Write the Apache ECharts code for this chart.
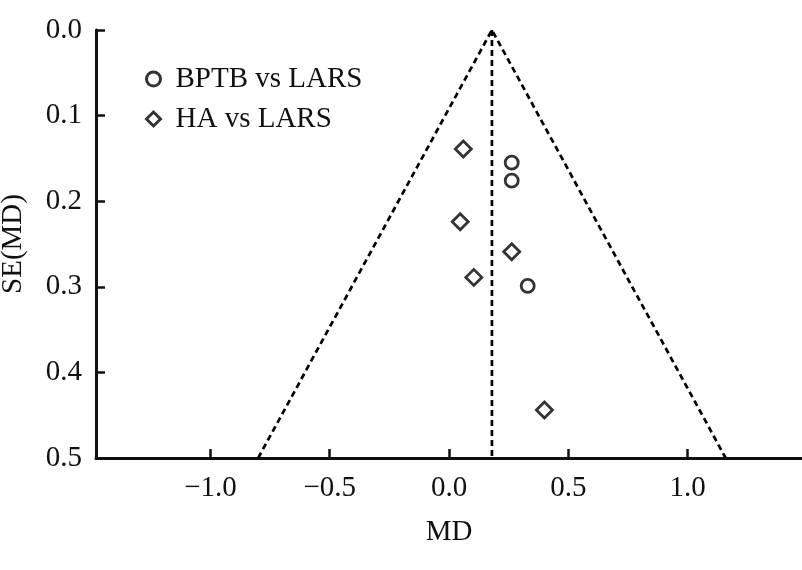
<!DOCTYPE html>
<html>
<head>
<meta charset="utf-8">
<script src="https://cdn.jsdelivr.net/npm/echarts@6/dist/echarts.min.js"></script>
<style>
  html, body { margin: 0; padding: 0; background: #fff; }
  #chart { width: 802px; height: 570px; }
</style>
</head>
<body>
<div id="chart"></div>
<script>
// funnel plot data
const pooledMD = 0.18;
const funnelSE = 0.5;
const xTicks = [-1.0, -0.5, 0.0, 0.5, 1.0];

const bptb = [[0.263, 0.155], [0.263, 0.176], [0.33, 0.299]];
const ha = [[0.06, 0.139], [0.047, 0.224], [0.263, 0.259], [0.104, 0.289], [0.40, 0.444]];

const font = 'Liberation Serif';
const fontSize = 29;
const ink = '#111';

const chart = echarts.init(document.getElementById('chart'));

const half = 1.96 * funnelSE;
const funnel = [[pooledMD - half, funnelSE], [pooledMD, 0], [pooledMD + half, funnelSE]];
const centre = [[pooledMD, 0], [pooledMD, funnelSE]];

const dashed = { color: '#000', width: 2.7, type: [6, 4] };
const markerStyle = { color: '#fff', borderColor: '#000', borderWidth: 2.8 };

chart.setOption({
  animation: false,
  backgroundColor: '#fff',
  grid: { left: 96, right: 0, top: 30, bottom: 112, containLabel: false, outerBoundsMode: 'none' },
  legend: {
    orient: 'vertical',
    left: 140,
    top: 59,
    itemWidth: 14,
    itemHeight: 14,
    itemGap: 10,
    itemStyle: { color: '#fff', borderColor: '#000', borderWidth: 3 },
    data: [
      { name: 'BPTB vs LARS', icon: 'circle' },
      { name: 'HA vs LARS', icon: 'diamond' }
    ],
    textStyle: { fontFamily: font, fontSize: fontSize, color: ink, lineHeight: 30, padding: [0, 0, 0, 10] }
  },
  xAxis: {
    type: 'value',
    min: -1.48,
    max: 1.48,
    name: 'MD',
    nameLocation: 'middle',
    nameGap: 60,
    nameTextStyle: { fontFamily: font, fontSize: fontSize, color: ink },
    splitLine: { show: false },
    axisLine: { onZero: false, lineStyle: { color: '#111', width: 3 } },
    axisTick: { inside: true, length: 9, customValues: xTicks, lineStyle: { color: '#111', width: 2.5 } },
    axisLabel: {
      customValues: xTicks,
      margin: 16,
      fontFamily: font, fontSize: fontSize, color: ink,
      formatter: v => (v < 0 ? '\u2212' : '') + Math.abs(v).toFixed(1)
    }
  },
  yAxis: {
    type: 'value',
    inverse: true,
    min: 0,
    max: 0.5,
    interval: 0.1,
    name: 'SE(MD)',
    nameLocation: 'middle',
    nameGap: 68,
    nameTextStyle: { fontFamily: font, fontSize: fontSize, color: ink },
    splitLine: { show: false },
    axisLine: { onZero: false, lineStyle: { color: '#111', width: 3 } },
    axisTick: { inside: true, length: 9, lineStyle: { color: '#111', width: 2.5 } },
    axisLabel: {
      margin: 14,
      fontFamily: font, fontSize: fontSize, color: ink,
      formatter: v => v.toFixed(1)
    }
  },
  series: [
    {
      type: 'line', data: funnel, showSymbol: false, silent: true,
      lineStyle: dashed, z: 1
    },
    {
      type: 'line', data: centre, showSymbol: false, silent: true,
      lineStyle: dashed, z: 1
    },
    {
      name: 'BPTB vs LARS', type: 'scatter', symbol: 'circle', symbolSize: 13,
      data: bptb, itemStyle: markerStyle, z: 3
    },
    {
      name: 'HA vs LARS', type: 'scatter', symbol: 'diamond', symbolSize: 16,
      data: ha, itemStyle: markerStyle, z: 3
    }
  ]
});
</script>
</body>
</html>
